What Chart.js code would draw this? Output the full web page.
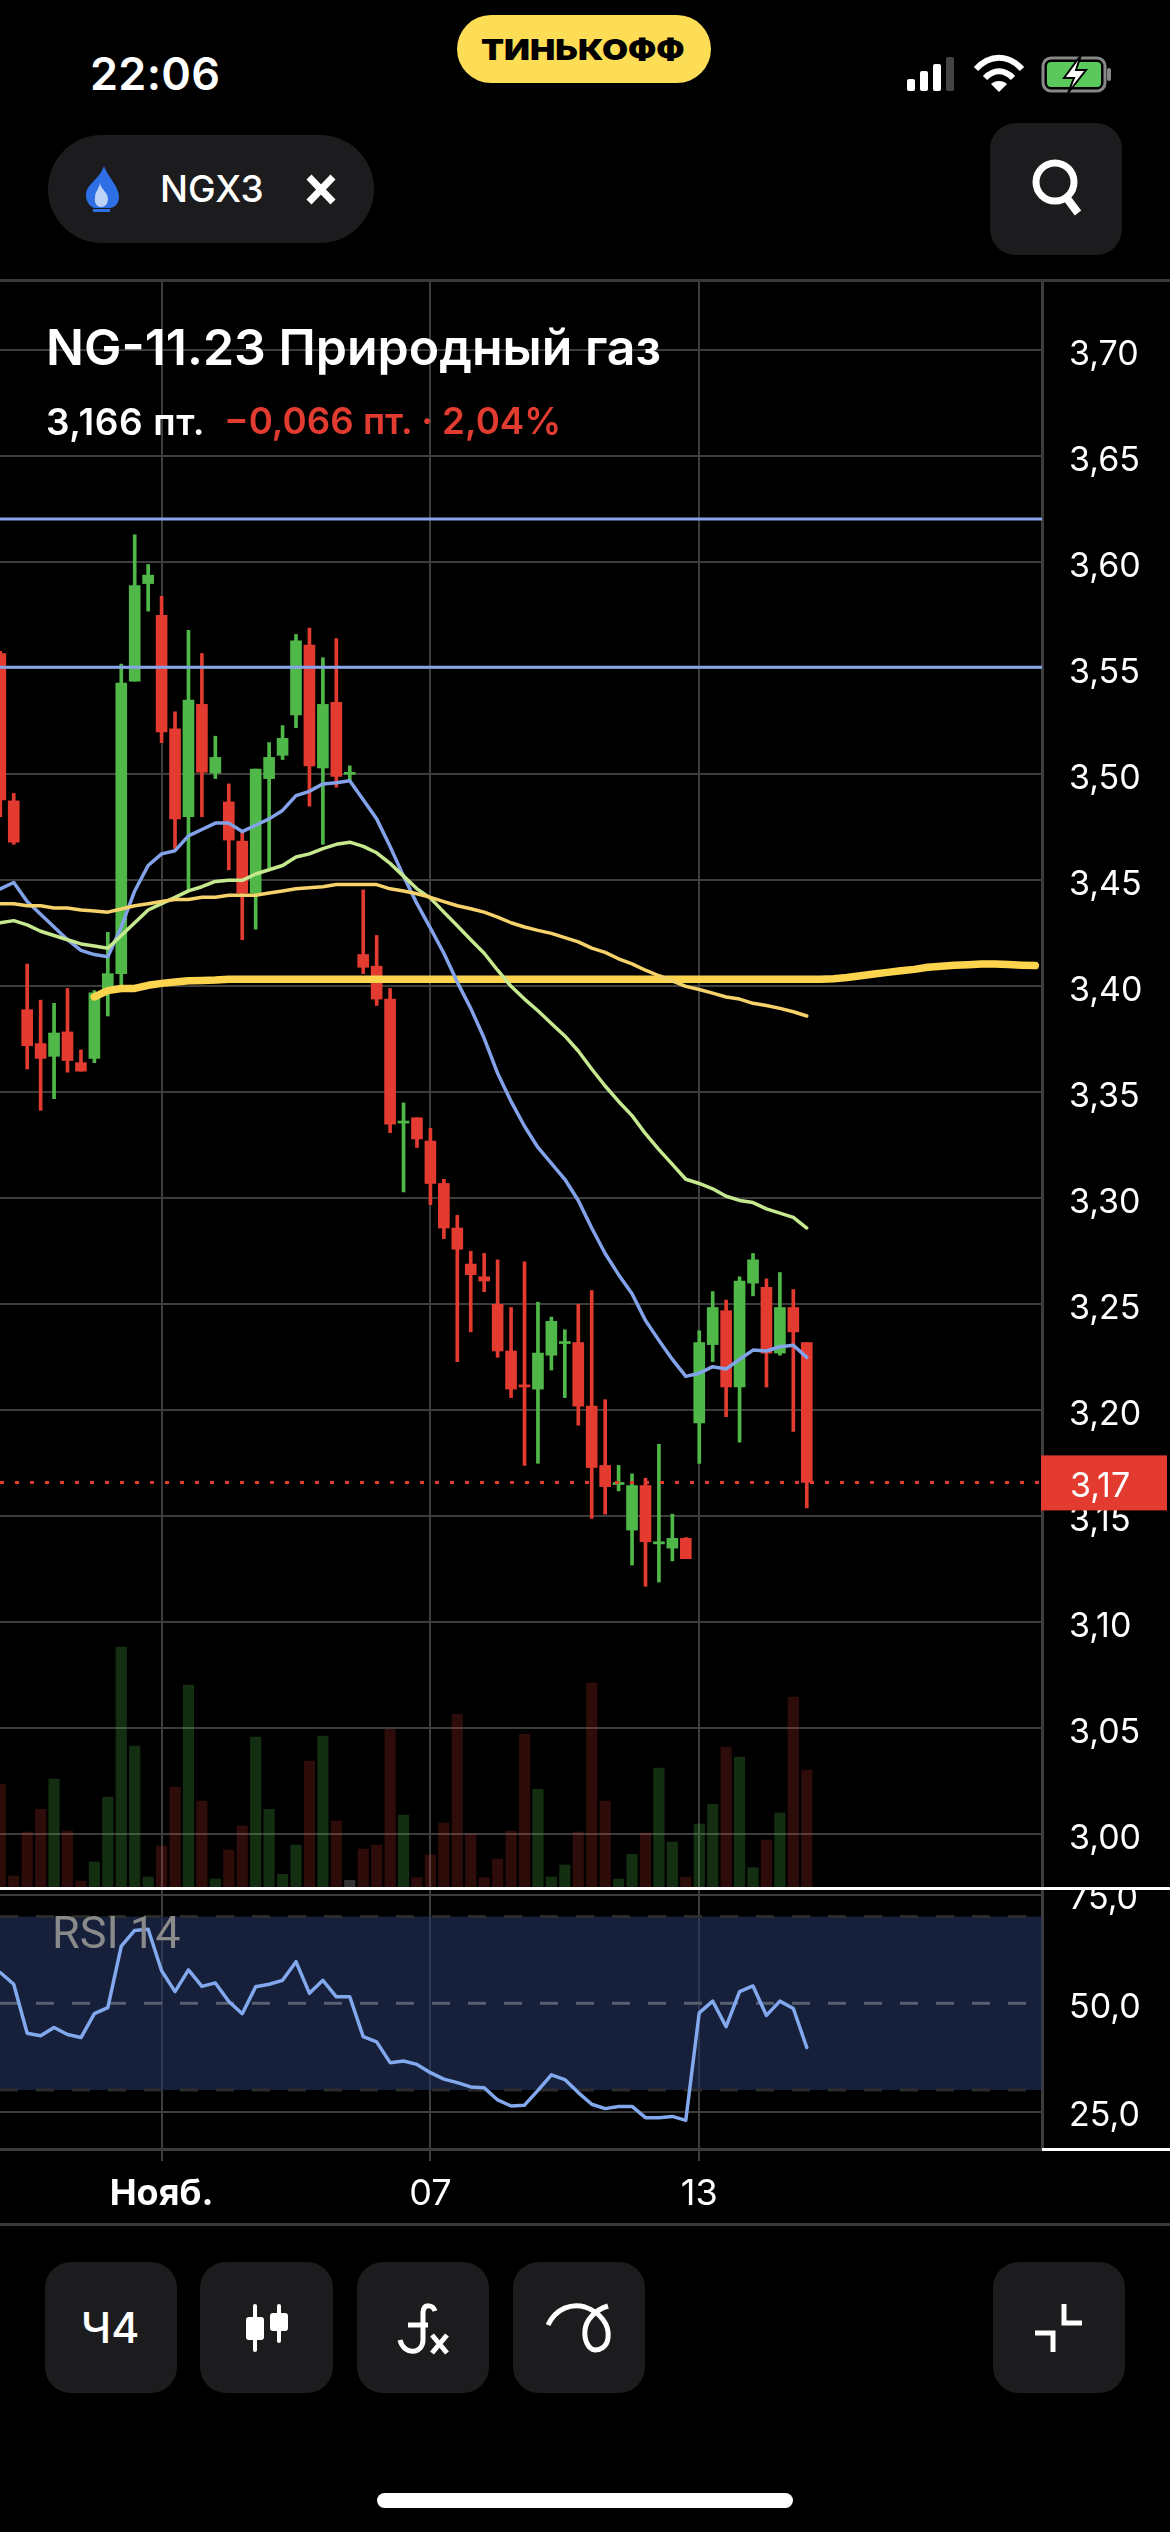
<!DOCTYPE html>
<html lang="ru">
<head>
<meta charset="utf-8">
<title>NG-11.23 Природный газ</title>
<script src="https://cdn.jsdelivr.net/npm/chart.js@4"></script>
<style>
  html, body { margin: 0; padding: 0; background: #000; }
  #screen { position: relative; width: 1170px; height: 2532px; overflow: hidden; background: #000; color: #fff; font-family: Inter, Roboto, sans-serif; }
  canvas { position: absolute; left: 0; display: block; }
  #priceChart { top: 280px; }
  #rsiChart { top: 1890px; }
  .box { position: absolute; background: #1c1c1e; }
  .line { position: absolute; }
  .txt { position: absolute; white-space: nowrap; line-height: 1; }
  #icons { position: absolute; left: 0; top: 0; }
</style>
</head>
<body>
<div id="screen">
  <canvas id="priceChart" width="1170" height="1607"></canvas>
  <canvas id="rsiChart" width="1170" height="334"></canvas>

  <div class="line" style="left:0;top:279px;width:1170px;height:3px;background:#3a3a3a"></div>
  <div class="line" style="left:0;top:1887px;width:1170px;height:3px;background:#fff"></div>
  <div class="line" style="left:1042px;top:2148px;width:128px;height:3px;background:#fff"></div>
  <div class="line" style="left:0;top:2223px;width:1170px;height:3px;background:#3a3a3a"></div>

  <div class="txt" style="left:90px;top:51px;font-size:45px;font-weight:600;letter-spacing:0.3px">22:06</div>
  <div class="box" style="left:457px;top:15px;width:254px;height:68px;border-radius:34px;background:#fedd56"></div>
  <div class="txt" style="left:481px;top:35px;font-size:29px;font-weight:900;color:#000;transform:scaleX(1.16);transform-origin:left center">ТИНЬКОФФ</div>

  <div class="box" style="left:48px;top:135px;width:326px;height:108px;border-radius:54px"></div>
  <div class="txt" style="left:160px;top:170px;font-size:37px;font-weight:500">NGX3</div>
  <div class="box" style="left:990px;top:123px;width:132px;height:132px;border-radius:26px"></div>

  <div class="txt" style="left:46px;top:322px;font-size:50px;font-weight:600">NG-11.23 Природный газ</div>
  <div class="txt" style="left:46px;top:403px;font-size:37px;font-weight:600;letter-spacing:0.6px">3,166 пт.</div>
  <div class="txt" style="left:224px;top:403px;font-size:36.7px;font-weight:600;color:#e23c31">−0,066 пт. · 2,04%</div>

  <div class="txt" style="left:52px;top:1910px;font-size:45px;color:#8a8a8a;font-family:Roboto">RSI 14</div>

  <div class="box" style="left:45px;top:2262px;width:132px;height:131px;border-radius:26px"></div>
  <div class="box" style="left:200px;top:2262px;width:133px;height:131px;border-radius:26px"></div>
  <div class="box" style="left:357px;top:2262px;width:132px;height:131px;border-radius:26px"></div>
  <div class="box" style="left:513px;top:2262px;width:132px;height:131px;border-radius:26px"></div>
  <div class="box" style="left:993px;top:2262px;width:132px;height:131px;border-radius:26px"></div>
  <div class="txt" style="left:81px;top:2306px;font-size:43px;font-weight:500">Ч4</div>
  <div class="box" style="left:377px;top:2493px;width:416px;height:15px;border-radius:8px;background:#fff"></div>

  <svg id="icons" width="1170" height="2532" fill="none">
    <!-- status bar -->
    <g fill="#fff">
      <rect x="907" y="79" width="8" height="12" rx="2"/>
      <rect x="920" y="71" width="8" height="20" rx="2"/>
      <rect x="933" y="64" width="8" height="27" rx="2"/>
      <rect x="946" y="57" width="8" height="34" rx="2" fill="#444"/>
    </g>
    <g stroke="#fff" stroke-width="6" stroke-linecap="butt">
      <path d="M976 69 C990 54 1008 54 1022 69"/>
      <path d="M985 78 C994 69 1004 69 1013 78"/>
    </g>
    <path d="M999 92 L991 84 C995 80 1003 80 1007 84 Z" fill="#fff"/>
    <rect x="1043" y="58" width="62" height="33" rx="8" stroke="#888" stroke-width="3"/>
    <rect x="1047" y="62" width="54" height="25" rx="4" fill="#5ac85a"/>
    <rect x="1107" y="68" width="4" height="13" rx="2" fill="#888"/>
    <path d="M1081 55 L1064 78 L1074 78 L1068 93 L1086 70 L1076 70 Z" fill="#fff" stroke="#000" stroke-width="2"/>
    <!-- ticker chip -->
    <path d="M104 166 C107 176 119 186 119 197 C119 204 114 208 110 208 L94 208 C89 206 86 201 86 195 C86 184 99 180 104 166 Z" fill="#2f6fe6"/>
    <path d="M100 183 C101 190 108 192 108 199 C108 204 105 207 101 207 C97 207 94 203 95 197 C95 192 99 189 100 183 Z" fill="#bcd3f7"/>
    <rect x="93" y="209" width="17" height="3" fill="#2f6fe6"/>
    <path d="M309 177 L333 202 M333 177 L309 202" stroke="#fff" stroke-width="7"/>
    <!-- search -->
    <circle cx="1055" cy="182" r="19" stroke="#fff" stroke-width="7"/>
    <path d="M1066 197 L1078 213" stroke="#fff" stroke-width="8"/>
    <!-- candles button -->
    <g fill="#fff">
      <rect x="253" y="2304" width="4" height="48" rx="2"/>
      <rect x="246" y="2317" width="18" height="23" rx="3"/>
      <rect x="277" y="2304" width="4" height="39" rx="2"/>
      <rect x="270" y="2313" width="18" height="18" rx="3"/>
    </g>
    <!-- fx button -->
    <g stroke="#fff" stroke-width="5">
      <path d="M435 2311 C433 2305 424 2303 423 2312 L423 2340 C423 2354 404 2356 400 2340"/>
      <path d="M408 2325 L428 2325"/>
      <path d="M432 2335 L447 2353 M447 2335 L432 2353" stroke-width="5"/>
    </g>
    <!-- drawing button -->
    <path d="M548 2325 C556 2308 572 2303 585 2307 C600 2312 610 2325 608 2338 C607 2347 600 2350 595 2350 C588 2349 584 2340 585 2330 C586 2320 595 2310 608 2306" stroke="#fff" stroke-width="5"/>
    <!-- collapse button -->
    <path d="M1064 2304 L1064 2323 L1082 2323 M1035 2333 L1053 2333 L1053 2352" stroke="#fff" stroke-width="5"/>
  </svg>
</div>

<script>
// candles, one per bar
const opens = [3.557,3.4875,3.389,3.373,3.367,3.3785,3.364,3.366,3.398,3.406,3.544,3.590,3.575,3.5215,3.480,3.533,3.5006,3.487,3.4685,3.444,3.498,3.509,3.528,3.561,3.503,3.534,3.500,3.415,3.4095,3.394,3.3355,3.338,3.327,3.307,3.286,3.269,3.263,3.250,3.228,3.212,3.210,3.226,3.2315,3.232,3.202,3.174,3.165,3.1435,3.1645,3.137,3.135,3.1396,3.194,3.231,3.247,3.211,3.260,3.258,3.227,3.2485,3.232];
const closes = [3.488,3.468,3.372,3.366,3.378,3.365,3.360,3.397,3.406,3.543,3.589,3.594,3.520,3.479,3.535,3.501,3.508,3.469,3.444,3.5025,3.508,3.517,3.563,3.504,3.533,3.499,3.500,3.409,3.394,3.335,3.336,3.328,3.307,3.286,3.276,3.264,3.261,3.228,3.210,3.211,3.227,3.242,3.232,3.202,3.173,3.164,3.166,3.1645,3.138,3.138,3.1396,3.130,3.232,3.2485,3.211,3.261,3.271,3.227,3.2485,3.237,3.166];
const highs = [3.558,3.491,3.4105,3.3935,3.392,3.399,3.370,3.398,3.4255,3.552,3.613,3.599,3.584,3.5295,3.568,3.557,3.518,3.4955,3.473,3.5025,3.515,3.523,3.566,3.569,3.555,3.564,3.504,3.4455,3.424,3.399,3.345,3.338,3.333,3.309,3.292,3.275,3.274,3.271,3.2485,3.270,3.251,3.244,3.238,3.250,3.2565,3.205,3.174,3.170,3.168,3.184,3.151,3.140,3.2375,3.256,3.252,3.263,3.274,3.262,3.265,3.257,3.232];
const lows = [3.480,3.467,3.361,3.3415,3.347,3.3595,3.360,3.364,3.386,3.400,3.544,3.577,3.515,3.465,3.4455,3.480,3.498,3.455,3.422,3.427,3.456,3.507,3.522,3.485,3.467,3.494,3.497,3.406,3.391,3.331,3.303,3.324,3.297,3.281,3.223,3.237,3.256,3.225,3.206,3.174,3.175,3.219,3.206,3.193,3.149,3.151,3.162,3.127,3.117,3.119,3.129,3.130,3.175,3.223,3.197,3.185,3.254,3.211,3.226,3.190,3.154];
const volumes = [308,33,165,233,324,168,18,75,270,720,423,30,123,300,606,258,24,111,183,450,233,38,126,378,453,198,20,114,126,473,216,28,96,192,518,159,28,84,168,458,293,30,66,165,612,258,24,98,162,357,135,30,189,248,420,390,58,141,222,570,351];

// moving averages
const maFast = [3.446,3.449,3.440,3.434,3.428,3.422,3.417,3.415,3.414,3.428,3.445,3.457,3.4625,3.464,3.471,3.474,3.477,3.477,3.473,3.476,3.479,3.483,3.490,3.492,3.4955,3.496,3.497,3.488,3.479,3.466,3.452,3.439,3.4275,3.4156,3.402,3.3896,3.3755,3.359,3.3457,3.334,3.324,3.3165,3.309,3.299,3.286,3.274,3.264,3.255,3.2424,3.233,3.224,3.216,3.2175,3.2206,3.2195,3.224,3.2284,3.228,3.230,3.2307,3.225];
const maMid = [3.430,3.431,3.429,3.426,3.424,3.422,3.420,3.419,3.418,3.424,3.430,3.436,3.439,3.442,3.445,3.447,3.4495,3.450,3.450,3.453,3.455,3.457,3.461,3.4625,3.465,3.467,3.468,3.466,3.463,3.458,3.452,3.446,3.4416,3.435,3.4286,3.422,3.4156,3.4076,3.400,3.394,3.3885,3.3825,3.3766,3.3695,3.361,3.353,3.3457,3.339,3.3305,3.323,3.316,3.309,3.307,3.3045,3.301,3.299,3.298,3.295,3.293,3.291,3.286];
const maSlow = [3.439,3.439,3.438,3.438,3.437,3.437,3.436,3.4355,3.435,3.4365,3.438,3.439,3.440,3.441,3.441,3.442,3.442,3.443,3.443,3.443,3.444,3.445,3.446,3.4465,3.447,3.448,3.448,3.448,3.448,3.446,3.445,3.4437,3.442,3.440,3.438,3.4366,3.435,3.4327,3.430,3.428,3.4264,3.425,3.423,3.421,3.418,3.416,3.413,3.4106,3.4076,3.405,3.4026,3.400,3.3985,3.3968,3.395,3.394,3.392,3.391,3.3896,3.388,3.386];
// the long average starts at bar 7 and runs on past the last candle
const maLongStart = 7;
const maLong = [3.395,3.398,3.399,3.399,3.4005,3.4014,3.402,3.4026,3.4028,3.403,3.4034,3.4034,3.4034,3.4034,3.4034,3.4034,3.4034,3.4034,3.4034,3.4034,3.4034,3.4034,3.4034,3.4034,3.4034,3.4034,3.4034,3.4034,3.4034,3.4034,3.4034,3.4034,3.4034,3.4034,3.4034,3.4034,3.4034,3.4034,3.4034,3.4034,3.4034,3.4034,3.4034,3.4034,3.4034,3.4034,3.4034,3.4034,3.4034,3.4034,3.4034,3.4034,3.4034,3.4034,3.4034,3.4036,3.4042,3.405,3.4058,3.4066,3.4074,3.408,3.409,3.4095,3.410,3.4102,3.4105,3.4105,3.4103,3.410,3.4098];

const rsiValues = [57.1,54.4,43.1,42.5,44.4,42.8,42.1,47.6,49.0,63.2,66.8,67.1,57.5,52.7,57.7,53.9,54.7,50.4,47.6,53.8,54.4,55.3,59.6,52.3,55.3,51.5,51.5,42.3,41.1,36.3,36.7,35.9,34.0,32.5,31.7,30.7,30.5,27.7,26.3,26.5,29.9,33.5,32.4,29.4,26.7,25.7,26.2,26.2,23.6,23.6,23.9,23.0,47.8,50.5,44.6,52.7,54.0,47.2,50.5,48.8,39.8];

const levels = [3.6205, 3.5505];
const lastPrice = 3.166;
const lastPriceLabel = "3,17";

const priceTicks = [3.00,3.05,3.10,3.15,3.20,3.25,3.30,3.35,3.40,3.45,3.50,3.55,3.60,3.65,3.70];
const rsiTicks = [25, 50, 75];
const rsiBand = [30, 70];
const dateTicks = [12, 32, 52];
const dateLabels = ["Нояб.", "07", "13"];

const xMin = -0.022, xMax = 77.5;
const gridColor = "#3c3c3c";
const red = "#e33b30";
const green = "#50b848";

const toPoints = (values, start = 0) => values.map((v, i) => ({ x: i + start, y: v }));
const comma = (v, digits) => v.toFixed(digits).replace(".", ",");

// y axes have a fixed width and must not push the chart area around
const fitRight = scale => {
  scale.width = 128;
  scale.paddingTop = 0;
  scale.paddingBottom = 0;
};

function lineSet(values, color, width, start) {
  return {
    type: "line",
    data: toPoints(values, start),
    borderColor: color,
    borderWidth: width,
    pointRadius: 0,
    tension: 0,
    fill: false,
    borderCapStyle: "round",
    borderJoinStyle: "round",
    order: 1
  };
}

function flatLine(value, color, width, dash) {
  const set = lineSet([value, value], color, width);
  set.data = [{ x: xMin, y: value }, { x: xMax, y: value }];
  set.borderDash = dash || [];
  set.borderCapStyle = "butt";
  return set;
}

// the red price tag on the axis goes over the tick labels
const priceTag = {
  id: "priceTag",
  afterDraw(chart) {
    const { ctx, scales } = chart;
    const y = scales.y.getPixelForValue(lastPrice);
    ctx.save();
    ctx.fillStyle = red;
    ctx.fillRect(1041, y - 27, 126, 55);
    ctx.fillStyle = "#fff";
    ctx.font = "34px Inter";
    ctx.textBaseline = "middle";
    ctx.fillText(lastPriceLabel, 1070, y + 4);
    ctx.restore();
  }
};

new Chart(document.getElementById("priceChart"), {
  data: {
    datasets: [
      {
        type: "bar",
        yAxisID: "volume",
        data: toPoints(volumes),
        backgroundColor: volumes.map((_, i) =>
          closes[i] > opens[i] ? "rgba(80,184,72,0.25)" : closes[i] < opens[i] ? "rgba(227,59,48,0.2)" : "#333"),
        barThickness: 10.5,
        grouped: false,
        order: 6
      },
      {
        type: "bar",
        data: lows.map((low, i) => ({ x: i, y: [low, highs[i]] })),
        backgroundColor: lows.map((_, i) => closes[i] >= opens[i] ? green : red),
        barThickness: 3,
        grouped: false,
        order: 5
      },
      {
        type: "bar",
        data: opens.map((open, i) => ({ x: i, y: [open, closes[i]] })),
        backgroundColor: opens.map((open, i) => closes[i] >= open ? green : red),
        barThickness: 11,
        minBarLength: 2,
        grouped: false,
        order: 4
      },
      flatLine(lastPrice, red, 3, [4, 11]),
      flatLine(levels[0], "#88a5e8", 3),
      flatLine(levels[1], "#88a5e8", 3),
      lineSet(maSlow, "#f5d26a", 3.5),
      lineSet(maMid, "#c6e88e", 3.5),
      lineSet(maFast, "#82a2ea", 3.5),
      lineSet(maLong, "#fdd44e", 7.5, maLongStart)
    ]
  },
  options: {
    responsive: false,
    animation: false,
    devicePixelRatio: 1,
    layout: { padding: 0 },
    plugins: { legend: { display: false }, tooltip: { enabled: false } },
    scales: {
      x: {
        type: "linear",
        offset: false,
        min: xMin,
        max: xMax,
        afterBuildTicks: scale => { scale.ticks = dateTicks.map(value => ({ value })); },
        afterFit: scale => { scale.height = 0; },
        grid: { color: gridColor, lineWidth: 2, drawTicks: false, offset: false },
        border: { display: false },
        ticks: { display: false, autoSkip: false }
      },
      y: {
        position: "right",
        min: 2.97514,
        max: 3.7332,
        afterBuildTicks: scale => { scale.ticks = priceTicks.map(value => ({ value })); },
        afterFit: fitRight,
        grid: { color: gridColor, lineWidth: 2, drawTicks: false },
        border: { color: gridColor, width: 3 },
        ticks: {
          color: "#fff",
          padding: 27,
          labelOffset: 4,
          autoSkip: false,
          font: { family: "Inter", size: 34 },
          callback: v => comma(v, 2)
        }
      },
      volume: { display: false, min: 0, max: 4821 }
    }
  },
  plugins: [priceTag]
});

new Chart(document.getElementById("rsiChart"), {
  data: {
    datasets: [
      Object.assign(flatLine(rsiBand[1], "#2c2c2c", 3, [18, 18]), { fill: "+1", backgroundColor: "rgba(36,54,96,0.6)", order: 4 }),
      Object.assign(flatLine(rsiBand[0], "#2c2c2c", 3, [18, 18]), { order: 3 }),
      Object.assign(flatLine(rsiTicks[1], "#565e70", 3, [18, 18]), { order: 2 }),
      lineSet(rsiValues, "#82a8ee", 3.5)
    ]
  },
  options: {
    responsive: false,
    animation: false,
    devicePixelRatio: 1,
    layout: { padding: 0 },
    plugins: { legend: { display: false }, tooltip: { enabled: false } },
    scales: {
      x: {
        type: "linear",
        min: xMin,
        max: xMax,
        afterBuildTicks: scale => { scale.ticks = dateTicks.map(value => ({ value })); },
        afterFit: scale => { scale.height = 75; },
        grid: { color: gridColor, lineWidth: 2, tickLength: 12 },
        border: { color: gridColor, width: 3 },
        ticks: {
          color: "#fff",
          padding: 12,
          autoSkip: false,
          maxRotation: 0,
          font: ctx => ({ family: "Inter", size: 36, weight: ctx.index === 0 ? "700" : "400" }),
          callback: (v, i) => dateLabels[i]
        }
      },
      y: {
        position: "right",
        min: 16.38,
        max: 76.14,
        afterBuildTicks: scale => { scale.ticks = rsiTicks.map(value => ({ value })); },
        afterFit: fitRight,
        grid: { color: ctx => ctx.tick && ctx.tick.value === rsiTicks[1] ? "transparent" : gridColor, lineWidth: 2, drawTicks: false },
        border: { color: gridColor, width: 3 },
        ticks: {
          color: "#fff",
          padding: 27,
          labelOffset: 4,
          autoSkip: false,
          font: { family: "Inter", size: 34 },
          callback: v => comma(v, 1)
        }
      }
    }
  }
});
</script>
</body>
</html>
